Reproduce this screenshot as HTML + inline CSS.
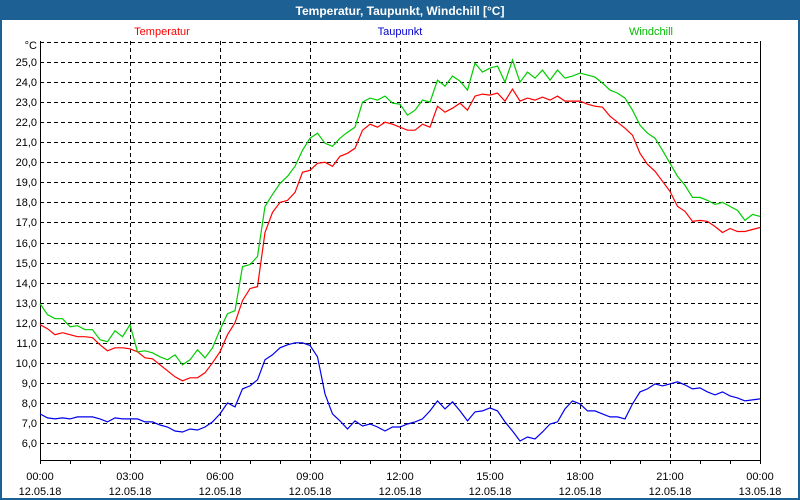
<!DOCTYPE html>
<html><head><meta charset="utf-8">
<style>
html,body{margin:0;padding:0;background:#fff}
#wrap{position:relative;width:800px;height:500px;overflow:hidden;font-family:"Liberation Sans",sans-serif}
</style></head>
<body>
<div id="wrap">
<svg id="chart" width="800" height="500" xmlns="http://www.w3.org/2000/svg">
  <rect x="0" y="0" width="800" height="500" fill="#1d6194"/>
  <rect x="2" y="20" width="796" height="478" fill="#ffffff"/>
  <text x="400" y="15" text-anchor="middle" font-size="12" font-weight="bold" fill="#ffffff">Temperatur, Taupunkt, Windchill [°C]</text>
  <text x="162" y="35" text-anchor="middle" font-size="11" fill="#ff0000">Temperatur</text>
  <text x="400" y="35" text-anchor="middle" font-size="11" fill="#0000cc">Taupunkt</text>
  <text x="651" y="35" text-anchor="middle" font-size="11" fill="#00bb00">Windchill</text>
  <g id="grid"></g>
  <g id="axes"></g>
  <g id="series"></g>
</svg>
</div>
<script>
const hours = [];
for (let i = 0; i <= 96; i++) hours.push(i * 0.25);
const temperatur = [11.9,11.7,11.4,11.5,11.4,11.3,11.3,11.25,10.9,10.6,10.75,10.75,10.7,10.55,10.25,10.2,9.9,9.6,9.3,9.1,9.25,9.25,9.5,10.0,10.55,11.4,12.0,13.1,13.7,13.8,16.5,17.5,18.0,18.1,18.5,19.5,19.6,19.95,20.0,19.8,20.3,20.45,20.7,21.6,21.9,21.75,22.0,21.9,21.75,21.6,21.6,21.9,21.75,22.8,22.5,22.7,22.95,22.6,23.3,23.4,23.35,23.45,23.05,23.65,23.05,23.2,23.1,23.25,23.1,23.3,23.05,23.05,23.05,22.9,22.8,22.75,22.3,22.0,21.7,21.35,20.45,19.9,19.55,19.05,18.55,17.8,17.55,17.05,17.1,17.05,16.8,16.5,16.7,16.55,16.55,16.65,16.75];
const windchill = [12.95,12.4,12.2,12.2,11.8,11.85,11.65,11.65,11.15,11.05,11.6,11.3,11.9,10.55,10.6,10.5,10.3,10.15,10.4,9.9,10.15,10.65,10.25,10.75,11.65,12.45,12.6,14.8,14.9,15.3,17.8,18.4,18.95,19.3,19.8,20.6,21.2,21.45,20.95,20.8,21.2,21.5,21.75,23.0,23.2,23.1,23.3,22.95,22.9,22.35,22.6,23.1,23.0,24.1,23.8,24.3,24.05,23.6,24.95,24.5,24.7,24.8,24.0,25.1,24.0,24.5,24.2,24.6,24.1,24.6,24.2,24.3,24.45,24.35,24.25,23.95,23.6,23.45,23.2,22.6,21.85,21.45,21.2,20.6,19.95,19.3,18.85,18.25,18.25,18.1,17.9,18.0,17.8,17.6,17.1,17.4,17.3];
const taupunkt = [7.45,7.25,7.2,7.25,7.2,7.3,7.3,7.3,7.2,7.05,7.25,7.2,7.2,7.2,7.05,7.05,6.9,6.8,6.6,6.55,6.7,6.65,6.8,7.05,7.45,8.0,7.8,8.7,8.85,9.15,10.15,10.4,10.75,10.9,11.0,11.0,10.87,10.3,8.45,7.45,7.1,6.7,7.1,6.85,6.95,6.8,6.6,6.8,6.8,6.95,7.05,7.2,7.6,8.1,7.7,8.05,7.6,7.1,7.55,7.6,7.75,7.6,7.05,6.6,6.1,6.3,6.2,6.55,6.95,7.05,7.7,8.1,7.95,7.6,7.6,7.45,7.3,7.3,7.2,7.95,8.55,8.7,8.95,8.85,8.95,9.05,8.9,8.7,8.75,8.55,8.4,8.55,8.35,8.25,8.1,8.15,8.2];
const yTicks = [6,7,8,9,10,11,12,13,14,15,16,17,18,19,20,21,22,23,24,25];
const yTickLabels = ["6,0","7,0","8,0","9,0","10,0","11,0","12,0","13,0","14,0","15,0","16,0","17,0","18,0","19,0","20,0","21,0","22,0","23,0","24,0","25,0"];
const xTicks = [0,3,6,9,12,15,18,21,24];
const xTimeLabels = ["00:00","03:00","06:00","09:00","12:00","15:00","18:00","21:00","00:00"];
const xDateLabels = ["12.05.18","12.05.18","12.05.18","12.05.18","12.05.18","12.05.18","12.05.18","12.05.18","13.05.18"];

const NS = "http://www.w3.org/2000/svg";
const L = 40, R = 760, T = 41, B = 460;
function xs(h){ return L + h * (R - L) / 24; }
function ys(v){ return 443 - (v - 6) * 20.05; }
function mk(tag, attrs, parent){
  const e = document.createElementNS(NS, tag);
  for (const k in attrs) e.setAttribute(k, attrs[k]);
  parent.appendChild(e);
  return e;
}
const grid = document.getElementById('grid');
const axes = document.getElementById('axes');
const series = document.getElementById('series');

// horizontal grid (include top 26 line)
yTicks.concat([26]).forEach(function(v){
  const y = Math.round(ys(v)) + 0.5;
  const ln = mk('line', {x1:L, x2:R, y1:y, y2:y, stroke:'#000', 'stroke-width':1, 'stroke-dasharray':'4,3'}, grid);
  
  
});
yTicks.forEach(function(v, i){
  const t = mk('text', {x:37, y:Math.round(ys(v)) + 4, 'text-anchor':'end', 'font-size':11, fill:'#000'}, axes);
  t.textContent = yTickLabels[i];
  
  
});
const unit = mk('text', {x:37, y:49, 'text-anchor':'end', 'font-size':11, fill:'#000'}, axes);
unit.textContent = '°C';



xTicks.forEach(function(h, i){
  const x = Math.round(xs(h)) + 0.5;
  if (h > 0 && h < 24) {
    const ln = mk('line', {x1:x, x2:x, y1:T, y2:B, stroke:'#000', 'stroke-width':1, 'stroke-dasharray':'4,3'}, grid);
    
    
  }
  const t1 = mk('text', {x:xs(h), y:480, 'text-anchor':'middle', 'font-size':11, fill:'#000'}, axes);
  t1.textContent = xTimeLabels[i];
  
  
  const t2 = mk('text', {x:xs(h), y:495, 'text-anchor':'middle', 'font-size':11, fill:'#000'}, axes);
  t2.textContent = xDateLabels[i];
  
  
});
for (let h = 0; h <= 24; h++) {
  const x = Math.round(xs(h)) + 0.5;
  const tk = mk('line', {x1:x, x2:x, y1:B, y2:B + 4, stroke:'#000', 'stroke-width':1}, axes);
  
  
}
const la = mk('line', {x1:L+0.5, x2:L+0.5, y1:T, y2:B+1, stroke:'#000', 'stroke-width':1}, axes);


const ra = mk('line', {x1:R+0.5, x2:R+0.5, y1:T, y2:B+1, stroke:'#000', 'stroke-width':1}, axes);


const ba = mk('line', {x1:L, x2:R+1, y1:B+0.5, y2:B+0.5, stroke:'#000', 'stroke-width':1}, axes);



function drawSeries(vals, color, name){
  const pts = vals.map(function(v, i){ return xs(hours[i]).toFixed(1) + ',' + ys(v).toFixed(1); }).join(' ');
  const pl = mk('polyline', {points:pts, fill:'none', stroke:color, 'stroke-width':1.2}, series);
  
  
}
drawSeries(taupunkt, '#0000ee', 'taupunkt-line');
drawSeries(temperatur, '#ff0000', 'temperatur-line');
drawSeries(windchill, '#00cc00', 'windchill-line');
</script>
</body></html>
